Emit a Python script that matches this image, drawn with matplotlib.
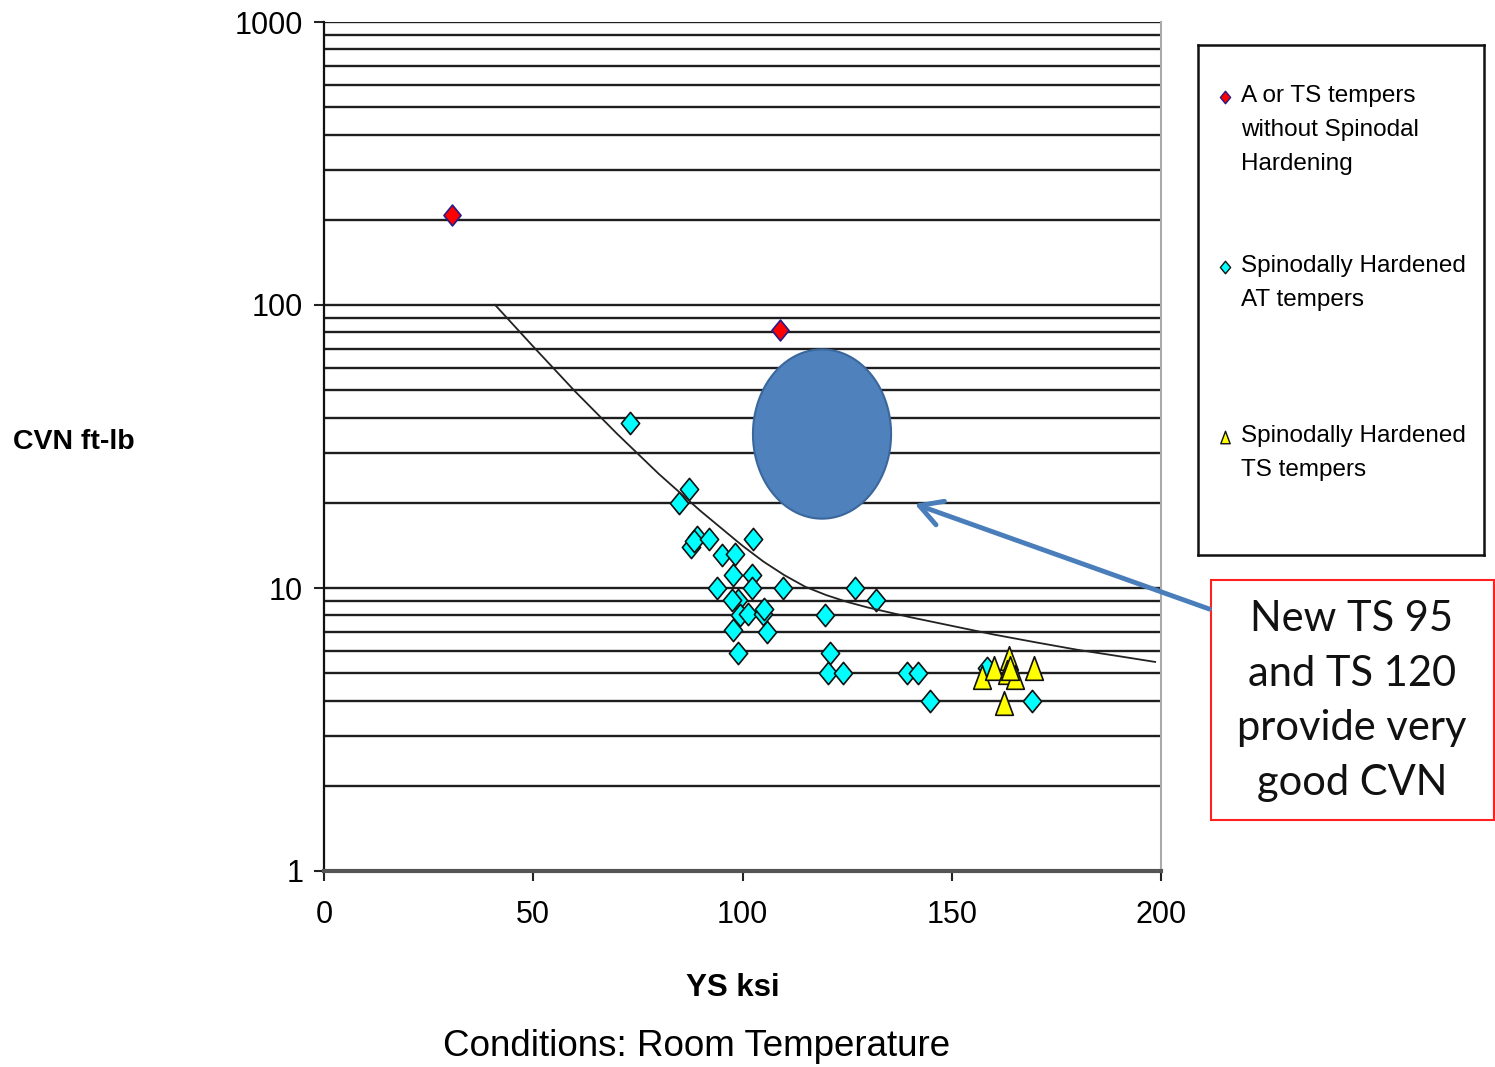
import numpy as np
import matplotlib
matplotlib.use("Agg")
import matplotlib.pyplot as plt
from matplotlib.path import Path

# Data (YS ksi, CVN ft-lb)
red_x = [30.5, 109.0]
red_y = [208, 81.7]

cyan_x = [73.1, 87.2, 84.8, 89.1, 87.7, 88.4, 92.0, 102.5, 95.1, 98.2,
          97.7, 102.3, 93.9, 102.3, 109.7, 98.9, 97.5, 99.4, 101.3, 104.9,
          105.1, 97.7, 105.9, 98.9, 119.7, 120.9, 120.4, 124.0, 126.9, 131.9,
          139.3, 141.9, 144.8, 169.2, 158.4]
cyan_y = [38.3, 22.4, 20.0, 15.1, 14.0, 14.6, 14.9, 14.9, 13.1, 13.2,
          11.1, 11.1, 10.0, 10.0, 10.0, 9.1, 9.1, 8.0, 8.1, 8.1,
          8.4, 7.1, 7.0, 5.9, 8.0, 5.9, 5.0, 5.0, 10.0, 9.1,
          5.0, 5.0, 4.0, 4.0, 5.2]

yellow_x = [157.2, 160.1, 163.7, 163.2, 165.1, 169.7, 162.5, 164.0]
yellow_y = [4.85, 5.21, 5.66, 5.05, 4.85, 5.21, 3.93, 5.2]

# trend curve, points
trend_x = [40.9, 50, 60, 70, 80, 90, 100, 105, 110, 115,
           120, 125, 130, 140, 150, 160, 170, 180, 190, 198.6]
trend_y = [100, 71.3, 49.5, 35.1, 25.3, 18.7, 14.1, 12.4, 11.1, 10.1,
           9.44, 8.93, 8.53, 7.89, 7.35, 6.85, 6.43, 6.05, 5.74, 5.48]

# highlighted region (ellipse): centre x, centre y, half width (ksi), half height (decades)
ell_cx, ell_cy, ell_rx, ell_ry = 119.0, 35.0, 16.5, 0.299

x_ticks = [0, 50, 100, 150, 200]
y_ticks = [1, 10, 100, 1000]

plt.rcParams['font.family'] = ['Liberation Sans', 'DejaVu Sans']

diamond = Path([(0, 1), (0.82, 0), (0, -1), (-0.82, 0), (0, 1)],
               [Path.MOVETO, Path.LINETO, Path.LINETO, Path.LINETO, Path.CLOSEPOLY])
tri = Path([(0, 1), (0.75, -1), (-0.75, -1), (0, 1)],
           [Path.MOVETO, Path.LINETO, Path.LINETO, Path.CLOSEPOLY])

fig = plt.figure(figsize=(14.95, 10.67), dpi=100)
ax = fig.add_axes([324/1495, 1-871/1067, (1161-324)/1495, (871-22)/1067])
ax.set_yscale('log')
ax.set_xlim(0, 200)
ax.set_ylim(1, 1000)

# horizontal grid lines at every 1..9 x decade
grid_vals = [m * 10**e for e in range(0, 3) for m in range(1, 10)] + [1000]
for g in grid_vals[1:]:
    ax.axhline(g, color='#1e1e1e', lw=1.7, zorder=1)

ax.set_xticks(x_ticks)
ax.set_xticklabels([str(v) for v in x_ticks])
ax.set_yticks(y_ticks)
ax.set_yticklabels([str(v) for v in y_ticks])
ax.yaxis.set_minor_locator(matplotlib.ticker.NullLocator())
ax.tick_params(axis='both', direction='out', length=7, width=1.5, labelsize=22,
               color='#222222')
ax.tick_params(axis='y', pad=8)
ax.tick_params(axis='x', pad=14)

ax.spines['top'].set_visible(False)
ax.spines['left'].set_color('#111111')
ax.spines['left'].set_linewidth(1.6)
ax.spines['bottom'].set_color('#555555')
ax.spines['bottom'].set_linewidth(3)
ax.spines['right'].set_color('#aaaaaa')
ax.spines['right'].set_linewidth(1.5)

# ellipse
t = np.linspace(0, 2 * np.pi, 300)
ex = ell_cx + ell_rx * np.cos(t)
ey = 10 ** (np.log10(ell_cy) + ell_ry * np.sin(t))
ax.fill(ex, ey, facecolor='#4F81BD', edgecolor='#3A679C', lw=1.5, zorder=3)

ax.plot(red_x, red_y, linestyle='none', marker=diamond, ms=15, mfc='#FF0000',
        mec='#2A1A8A', mew=1.2, zorder=4)
ax.plot(cyan_x, cyan_y, linestyle='none', marker=diamond, ms=16, mfc='#00FFFF',
        mec='#111111', mew=1.2, zorder=4)
ax.plot(yellow_x, yellow_y, linestyle='none', marker=tri, ms=17, mfc='#FFFF00',
        mec='#111111', mew=1.2, zorder=5)
ax.plot(trend_x, trend_y, color='#222222', lw=1.3, zorder=6)

# axis titles
fig.text(74/1495, 1-442/1067, 'CVN ft-lb', ha='center', va='center',
         fontsize=20.5, fontweight='bold')
fig.text(733/1495, 1-988/1067, 'YS ksi', ha='center', va='center',
         fontsize=22.5, fontweight='bold')
fig.text(697/1495, 1-1046/1067, 'Conditions: Room Temperature', ha='center',
         va='center', fontsize=26.5)

# legend box
lg = fig.add_axes([1198/1495, 1-555/1067, (1484-1198)/1495, (555-45)/1067])
lg.set_xlim(0, 286)
lg.set_ylim(510, 0)
lg.set_xticks([])
lg.set_yticks([])
for s in lg.spines.values():
    s.set_linewidth(1.8)
    s.set_color('#111111')
entries = [
    ('A or TS tempers\nwithout Spinodal\nHardening', diamond, '#FF0000', '#2A1A8A', 52),
    ('Spinodally Hardened\nAT tempers', diamond, '#00FFFF', '#111111', 222),
    ('Spinodally Hardened\nTS tempers', tri, '#FFFF00', '#111111', 392),
]
for label, mk, fc, ec, yy in entries:
    lg.plot([27], [yy], marker=mk, ms=9, mfc=fc, mec=ec, mew=1, linestyle='none')
    lg.text(43, yy - 12, label, ha='left', va='top', fontsize=17.5,
            linespacing=1.72)

# annotation box and arrow
fig.text(1352/1495, 1-701/1067, 'New TS 95\nand TS 120\nprovide very\ngood CVN',
         ha='center', va='center', fontsize=30, linespacing=1.53,
         family=['Lato', 'DejaVu Sans'], color='#111111')
box = plt.Rectangle((1211/1495, 1-820/1067), (1494-1211)/1495, (820-580)/1067,
                    transform=fig.transFigure, fill=False, edgecolor='#FF2020', lw=1.5)
fig.add_artist(box)
fig.add_artist(matplotlib.patches.FancyArrowPatch(
    (1212/1495, 1-610/1067), (912/1495, 1-503/1067),
    transform=fig.transFigure, arrowstyle='->,head_length=16,head_width=9',
    color='#4A7EBB', lw=3.5))

fig.savefig('out.png', dpi=100)
